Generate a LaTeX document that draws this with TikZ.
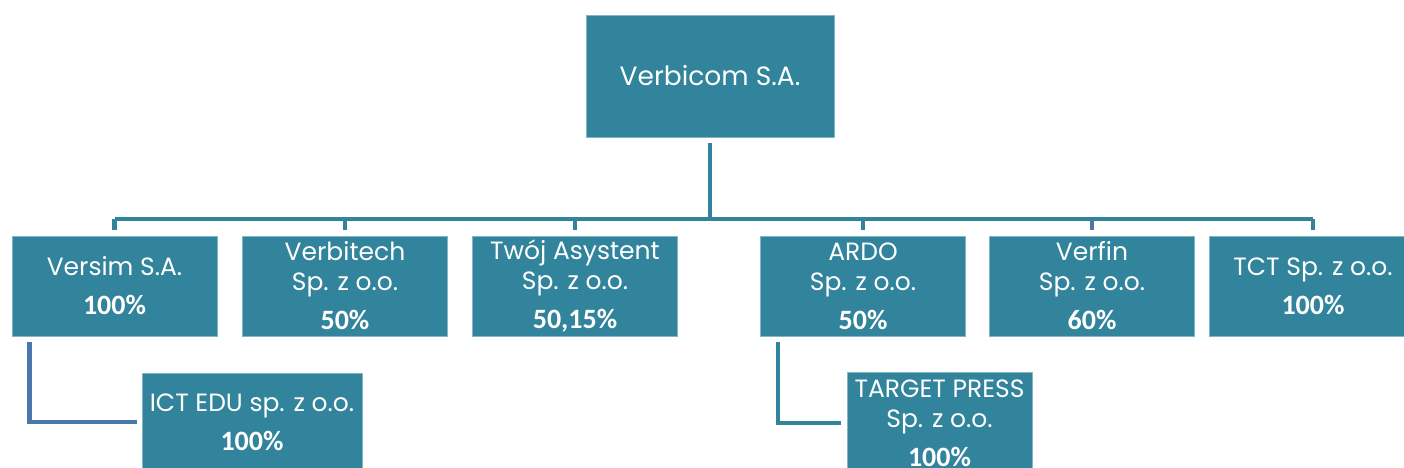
\documentclass[tikz,border=0pt]{standalone}
\usepackage{fontspec}
\setmainfont{Poppins}
\newfontfamily\pctfont{Carlito}
\definecolor{boxteal}{RGB}{49, 132, 155}
\definecolor{lineblue}{RGB}{74, 118, 170}
\usetikzlibrary{positioning, calc}
\newcommand{\share}[1]{\\[9pt]{\pctfont\bfseries\fontsize{28}{30}\selectfont #1}}

\begin{document}
\begin{tikzpicture}[x=1pt, y=-1pt,
  company/.style={fill=boxteal, draw=boxteal!60!white, line width=0.8pt, text=white, inner sep=0pt, align=center, font=\fontsize{25}{30}\selectfont},
  link/.style={draw=boxteal, line width=4.5pt}]
  \clip (0,0) rectangle (1404,468);

  % Parent company
  \node[company, minimum width=248pt, minimum height=122pt, font=\fontsize{26.5}{30}\selectfont] (verbicom) at (710,76) {Verbicom S.A.};

  % First level
  \node[company, minimum width=205pt, minimum height=100pt] (versim) at (114.5,286) {Versim S.A.\share{100\%}};
  \node[company, minimum width=205pt, minimum height=100pt] (verbitech) at (345,286) {Verbitech\\Sp. z o.o.\share{50\%}};
  \node[company, minimum width=205pt, minimum height=100pt] (twoj) at (575,286) {Twój Asystent\\Sp. z o.o.\share{50,15\%}};
  \node[company, minimum width=205pt, minimum height=100pt] (ardo) at (863,286) {ARDO\\Sp. z o.o.\share{50\%}};
  \node[company, minimum width=205pt, minimum height=100pt] (verfin) at (1092,286) {Verfin\\Sp. z o.o.\share{60\%}};
  \node[company, minimum width=208pt, minimum height=100pt] (tct) at (1313,286) {TCT Sp. z o.o.\share{100\%}};

  % Second level
  \node[company, minimum width=220pt, minimum height=98pt] (ictedu) at (252,422) {ICT EDU sp. z o.o.\share{100\%}};
  \node[company, minimum width=185pt, minimum height=102pt] (target) at (939.5,423) {TARGET PRESS\\Sp. z o.o.\share{100\%}};

  % Connectors
  \coordinate (bus) at (710,219);
  \draw[link] ([yshift=-6pt]verbicom.south) -- (bus);
  \draw[link] (versim.north |- bus) -- (tct.north |- bus);
  \foreach \c in {versim, verbitech, twoj, ardo, tct}
    \draw[link] (\c.north |- bus) -- ([yshift=6pt]\c.north);
  \draw[link, draw=lineblue] (verfin.north |- bus) -- ([yshift=6pt]verfin.north);

  \draw[link, draw=lineblue] ([xshift=18pt, yshift=-6pt]versim.south west) |- ([xshift=-5pt]ictedu.west);
  \draw[link] ([xshift=18pt, yshift=-6pt]ardo.south west) |- ([xshift=-6pt]target.west);
\end{tikzpicture}
\end{document}
